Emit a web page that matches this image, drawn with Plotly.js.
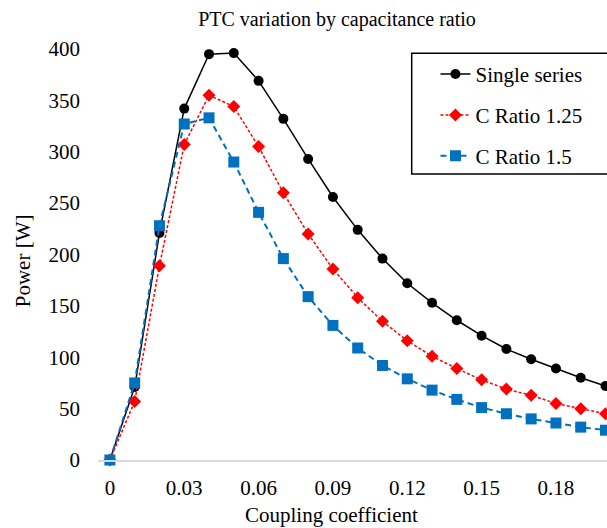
<!DOCTYPE html>
<html>
<head>
<meta charset="utf-8">
<script src="https://cdn.plot.ly/plotly-3.0.1.min.js"></script>
<style>html,body{margin:0;padding:0;background:#fff;overflow:hidden}#chart{width:607px;height:528px}</style>
</head>
<body>
<div id="chart"></div>
<script>
const coupling = [0, 0.01, 0.02, 0.03, 0.04, 0.05, 0.06, 0.07, 0.08, 0.09, 0.10, 0.11, 0.12, 0.13, 0.14, 0.15, 0.16, 0.17, 0.18, 0.19, 0.20];
const singleSeries = [0, 71, 221, 342, 395, 396, 369, 332, 293, 256, 224, 196, 172, 153, 136, 121, 108, 98, 89, 80, 72];
const cRatio125 = [0, 57, 189, 307, 355, 344, 305, 260, 220, 186, 158, 135, 116, 101, 89, 78, 69, 63, 55, 50, 45];
const cRatio15 = [0, 75, 228, 327, 333, 290, 241, 196, 159, 131, 109, 92, 79, 68, 59, 51, 45, 40, 36, 32, 29];
const seriesNames = ["Single series", "C Ratio 1.25", "C Ratio 1.5"];
const xTickVals = [0, 0.03, 0.06, 0.09, 0.12, 0.15, 0.18];
const xTickText = ["0", "0.03", "0.06", "0.09", "0.12", "0.15", "0.18"];
const yTickVals = [0, 50, 100, 150, 200, 250, 300, 350, 400];
const yTickText = ["0", "50", "100", "150", "200", "250", "300", "350", "400"];

const FONT = "'Liberation Serif', 'Times New Roman', serif";

const traces = [
  {x: coupling, y: singleSeries, name: seriesNames[0], legendgroup: "a", type: "scatter", mode: "lines+markers",
   line: {color: "#000000", width: 1.5}, marker: {symbol: "circle", size: 10, color: "#000000"}, cliponaxis: false},
  {x: coupling, y: cRatio125, name: seriesNames[1], legendgroup: "b", type: "scatter", mode: "lines+markers",
   line: {color: "#FF0000", width: 1.5, dash: "3px,2px"}, marker: {symbol: "diamond", size: 10, color: "#FF0000"}, cliponaxis: false},
  {x: coupling, y: cRatio15, name: seriesNames[2], legendgroup: "c", type: "scatter", mode: "lines+markers",
   line: {color: "#0070C0", width: 2, dash: "6px,4px"}, marker: {symbol: "square", size: 11, color: "#0070C0"}, cliponaxis: false}
];

const layout = {
  width: 607, height: 528,
  margin: {l: 98, r: 0, t: 49, b: 68, pad: 0},
  paper_bgcolor: "#ffffff", plot_bgcolor: "#ffffff",
  font: {family: FONT, size: 21, color: "#000000"},
  title: {text: "PTC variation by capacitance ratio", font: {family: FONT, size: 20, color: "#000000"},
          xref: "container", yref: "container", x: 337/607, xanchor: "center", y: 1 - 19/528, yanchor: "middle"},
  xaxis: {range: [-0.0048, 0.2006], tickmode: "array", tickvals: xTickVals, ticktext: xTickText,
          showgrid: false, zeroline: false, showline: true, linecolor: "#d9d9d9", linewidth: 1.5,
          ticks: "", ticklabelstandoff: 8, tickfont: {family: FONT, size: 21, color: "#000"}, fixedrange: true},
  yaxis: {range: [0, 400], tickmode: "array", tickvals: yTickVals, ticktext: yTickText,
          showgrid: false, zeroline: false, showline: false,
          ticks: "", ticklabelstandoff: 17, tickfont: {family: FONT, size: 21, color: "#000"}, fixedrange: true},
  showlegend: true,
  legend: {x: 0.663, xanchor: "left", y: 0.988, yanchor: "top", bgcolor: "rgba(0,0,0,0)", borderwidth: 0,
           tracegroupgap: 10.5, font: {family: FONT, size: 21, color: "#000"}},
  shapes: [{type: "rect", xref: "paper", yref: "paper", x0: 0.6163, x1: 1.1, y0: 0.696, y1: 0.9895,
            line: {color: "#000000", width: 1.5}, fillcolor: "rgba(0,0,0,0)", layer: "above"}],
  annotations: [
    {text: "Coupling coefficient", xref: "paper", yref: "paper", x: 0.4597, y: -0.1340, xanchor: "center", yanchor: "middle",
     showarrow: false, font: {family: FONT, size: 21, color: "#000"}},
    {text: "Power [W]", xref: "paper", yref: "paper", x: -0.1470, y: 0.484, xanchor: "center", yanchor: "middle",
     textangle: -90, showarrow: false, font: {family: FONT, size: 21, color: "#000"}}
  ]
};

Plotly.newPlot("chart", traces, layout, {displayModeBar: false, staticPlot: true});
</script>
</body>
</html>
